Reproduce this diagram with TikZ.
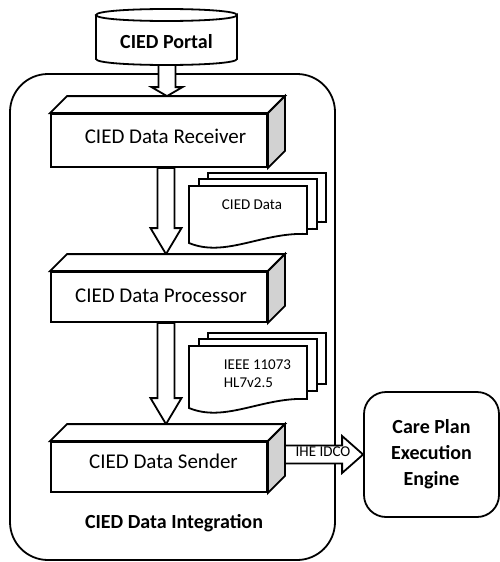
\documentclass[tikz,border=0pt]{standalone}
\usepackage{fontspec}
\setmainfont{Carlito}
\usetikzlibrary{calc}
\definecolor{sidegray}{RGB}{210,210,210}
\newcommand\threed[1]{%
  \draw[fill=white] (#1.north west) -- ++(17,-17) -- ($(#1.north east)+(17,-17)$) -- (#1.north east) -- cycle;
  \draw[fill=sidegray] (#1.north east) -- ++(17,-17) -- ($(#1.south east)+(17,-17)$) -- (#1.south east) -- cycle;}
\newcommand\vblock[3]{%
  \draw[fill=white] let \p1=(#1), \p2=(#2) in
  (\x2-8.5pt,\y1) -- (\x2-8.5pt,\y2+#3) -- (\x2-15.5pt,\y2+#3) -- (\x2,\y2)
  -- (\x2+15.5pt,\y2+#3) -- (\x2+8.5pt,\y2+#3) -- (\x2+8.5pt,\y1) -- cycle;}
\newcommand\docshape[3]{%
  \filldraw[fill=white] (#1,#2) -- ++(118,0) -- ++(0,#3-9)
  .. controls +(-45,-2) and +(36,15) .. (#1,#2+#3) -- cycle;}
\begin{document}
\begin{tikzpicture}[x=1pt,y=-1pt,line width=1.8pt,line join=miter,
  front/.style={draw,fill=white,minimum width=216pt,inner sep=0pt},
  boldtxt/.style={font=\bfseries\fontsize{20}{26}\selectfont,inner sep=0pt},
  boxtxt/.style={font=\fontsize{21}{25}\selectfont,inner sep=0pt},
  smalltxt/.style={font=\fontsize{15}{18}\selectfont,inner sep=0pt}]
\useasboundingbox (0,0) rectangle (500,562);

% outer container
\node[draw,rounded corners=38pt,minimum width=325pt,minimum height=486pt,inner sep=0pt] (integ) at (172.5,317) {};
\node[boldtxt] (intlbl) at (174,523) {CIED Data Integration};

% nodes (front faces)
\node[front,minimum height=53pt] (recv) at (159,140.5) {};
\node[front,minimum height=50pt] (proc) at (159,297) {};
\node[front,minimum height=50pt] (send) at (159,467) {};
\coordinate (portalbot) at (166.5,65);
\coordinate (sendback) at ($(send.north east)+(17,-17)$);

\node[draw,rounded corners=22pt,minimum width=135pt,minimum height=125pt,align=center,
  boldtxt] (care) at (431.5,454.5) {Care Plan\\Execution\\Engine};

% block arrows
\vblock{portalbot}{$(recv.north)+(8,-17)$}{9pt}
\vblock{recv.south}{$(proc.north)+(7,-17)$}{26pt}
\vblock{proc.south}{$(send.north)+(7,-17)$}{26pt}
\draw[fill=white] let \p1=(sendback), \p2=(care.west) in
  (\x1,\y2+9pt) -- (\x2-21pt,\y2+9pt) -- (\x2-21pt,\y2+18.5pt) -- (\x2,\y2)
  -- (\x2-21pt,\y2-18.5pt) -- (\x2-21pt,\y2-9pt) -- (\x1,\y2-9pt) -- cycle;
\node[smalltxt] (ihe) at (323,452) {IHE IDCO};

% cylinder
\filldraw[fill=white] (96,15) -- (96,59) .. controls (96,67) and (237,67) .. (237,59) -- (237,15)
  .. controls (237,23) and (96,23) .. (96,15) .. controls (96,7) and (237,7) .. (237,15);
\node[boldtxt] (portal) at (166.5,42) {CIED Portal};

% 3D boxes
\node[front,minimum height=53pt] at (recv) {};
\node[front,minimum height=50pt] at (proc) {};
\node[front,minimum height=50pt] at (send) {};
\threed{recv}
\threed{proc}
\threed{send}
\node[boxtxt] (recvt) at (165.5,136) {CIED Data Receiver};
\node[boxtxt] (proct) at (161,296) {CIED Data Processor};
\node[boxtxt] (sendt) at (163.5,461) {CIED Data Sender};

% document stacks
\docshape{208}{173}{58}
\docshape{199}{179}{59}
\docshape{189}{186}{57}
\node[smalltxt] (d1) at (252,205) {CIED Data};
\docshape{208}{333}{60}
\docshape{199}{339}{61}
\docshape{189}{346}{62}
\node[smalltxt,align=left,anchor=west] (d2) at (223,374) {IEEE 11073\\HL7v2.5};
\end{tikzpicture}
\end{document}
